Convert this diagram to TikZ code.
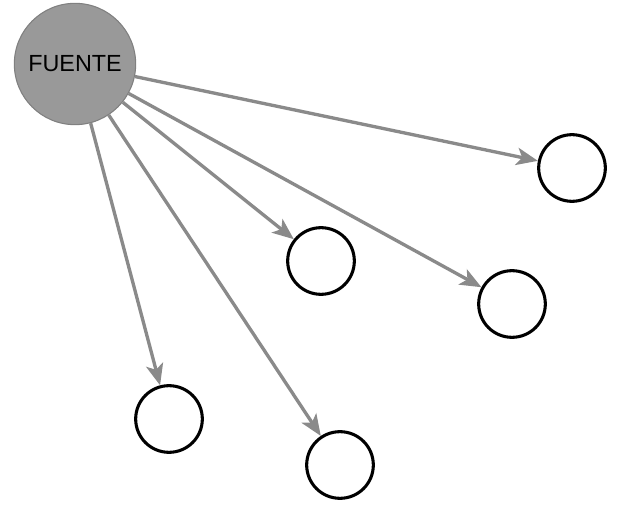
\documentclass[tikz,border=0pt]{standalone}
\usepackage{fontspec}
\setmainfont{Liberation Sans}
\usetikzlibrary{arrows.meta}
\definecolor{srcgray}{HTML}{999999}
\definecolor{srcline}{HTML}{808080}
\definecolor{arrgray}{HTML}{8A8A8A}
\begin{document}
\begin{tikzpicture}[x=0.75pt,y=-0.75pt,
    src/.style={circle,draw=srcline,line width=0.8pt,fill=srcgray,minimum size=91pt,inner sep=0pt,font=\fontsize{17.5}{19}\selectfont},
    sink/.style={circle,draw=black,line width=2.3pt,fill=white,minimum size=50pt,inner sep=0pt},
    link/.style={draw=arrgray,line width=2.5pt,-{Stealth[length=16pt,width=13pt,inset=4pt]}}]
    \useasboundingbox (0,0) rectangle (621,509);

    \node[src](fuente)at(75,64){FUENTE};
    \node[sink](s1)at(572,168){};
    \node[sink](s2)at(321,261){};
    \node[sink](s3)at(512,304){};
    \node[sink](s4)at(169,419){};
    \node[sink](s5)at(340,465){};

    \draw[link] (fuente) to (s1);
    \draw[link] (fuente) to (s2);
    \draw[link] (fuente) to (s3);
    \draw[link] (fuente) to (s4);
    \draw[link] (fuente) to (s5);
  \end{tikzpicture}
\end{document}
